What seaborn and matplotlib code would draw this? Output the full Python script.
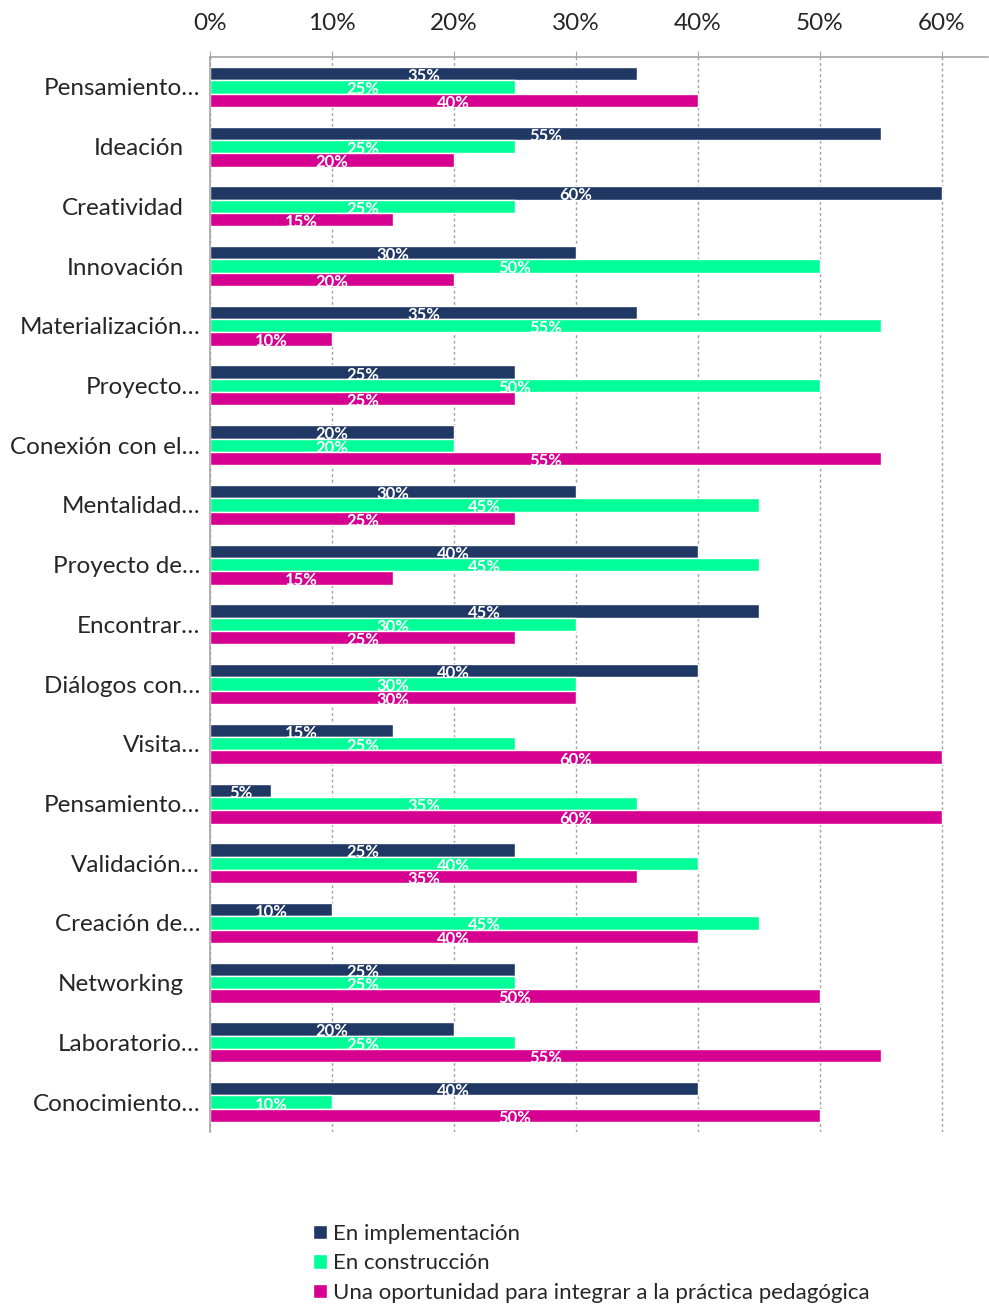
import numpy as np
import pandas as pd
import matplotlib
matplotlib.use("Agg")
import matplotlib.pyplot as plt
from matplotlib.ticker import PercentFormatter, FixedLocator
from matplotlib.transforms import ScaledTranslation
import seaborn as sns

# Categories (top to bottom) and the three series, in percent
items = ["Pensamiento…", "Ideación", "Creatividad", "Innovación", "Materialización…",
         "Proyecto…", "Conexión con el…", "Mentalidad…", "Proyecto de…", "Encontrar…",
         "Diálogos con…", "Visita…", "Pensamiento…", "Validación…", "Creación de…",
         "Networking", "Laboratorio…", "Conocimiento…"]
implementacion = [35, 55, 60, 30, 35, 25, 20, 30, 40, 45, 40, 15, 5, 25, 10, 25, 20, 40]
construccion = [25, 25, 25, 50, 55, 50, 20, 45, 45, 30, 30, 25, 35, 40, 45, 25, 25, 10]
oportunidad = [40, 20, 15, 20, 10, 25, 55, 25, 15, 25, 30, 60, 60, 35, 40, 50, 55, 50]
series = ["En implementación", "En construcción",
          "Una oportunidad para integrar a la práctica pedagógica"]
colors = ["#203864", "#00FF99", "#D5008F"]

sns.set_style("white")
plt.rcParams["font.family"] = ["Lato", "DejaVu Sans"]

# long table; unique keys because two items share the same label
keys = [f"{i:02d}" for i in range(len(items))]
df = pd.DataFrame({
    "key": keys * 3,
    "serie": np.repeat(series, len(items)),
    "valor": implementacion + construccion + oportunidad,
})

fig = plt.figure(figsize=(9.89, 13.07), dpi=100)
ax = fig.add_axes([0.2123, 0.1339, 0.7867, 0.8225])

sns.barplot(data=df, x="valor", y="key", hue="serie", order=keys, hue_order=series,
            palette=colors, orient="h", width=0.67, saturation=1, ax=ax, legend=True)

ax.set_xlim(0, 63.8)
ax.set_ylim(len(items) - 0.5, -0.5)
ax.xaxis.tick_top()
ax.set_xticks(range(0, 61, 10))
ax.xaxis.set_major_formatter(PercentFormatter(decimals=0))
ax.tick_params(axis="x", which="major", length=4.5, color="#A6A6A6", pad=12, labelsize=17.5)
ax.grid(axis="x", color="#A0A0A0", linestyle=(0, (2, 2)), linewidth=1)
ax.set_xlabel("")
ax.set_ylabel("")

# category labels centred, tick marks on band boundaries
ax.set_yticks(range(len(items)))
ax.set_yticklabels(items, fontsize=17.5)
ax.tick_params(axis="y", which="major", length=0, pad=7)
ax.yaxis.set_minor_locator(FixedLocator(np.arange(-0.5, len(items), 1)))
ax.tick_params(axis="y", which="minor", length=5, color="#A6A6A6", width=1)
shift = ScaledTranslation(-16 / 100, 0, fig.dpi_scale_trans)
for lbl in ax.get_yticklabels():
    if not lbl.get_text().endswith("…"):
        lbl.set_transform(lbl.get_transform() + shift)

for side in ["right", "bottom"]:
    ax.spines[side].set_visible(False)
for side in ["top", "left"]:
    ax.spines[side].set_color("#A6A6A6")
    ax.spines[side].set_linewidth(1.2)

# value labels in the middle of each bar
for cont in ax.containers:
    for p in cont.patches:
        w = p.get_width()
        ax.text(p.get_x() + w / 2, p.get_y() + p.get_height() / 2 + 0.04,
                f"{w:.0f}%", ha="center", va="center", color="white",
                fontsize=12, fontweight="bold")

handles, labels = ax.get_legend_handles_labels()
ax.legend_.remove()
fig.legend(handles, labels, loc="upper left", bbox_to_anchor=(0.307, 0.0705),
           frameon=False, fontsize=16, handlelength=0.65, handleheight=0.65,
           handletextpad=0.25, labelspacing=0.43, borderaxespad=0)

fig.savefig("out.png", dpi=100)
